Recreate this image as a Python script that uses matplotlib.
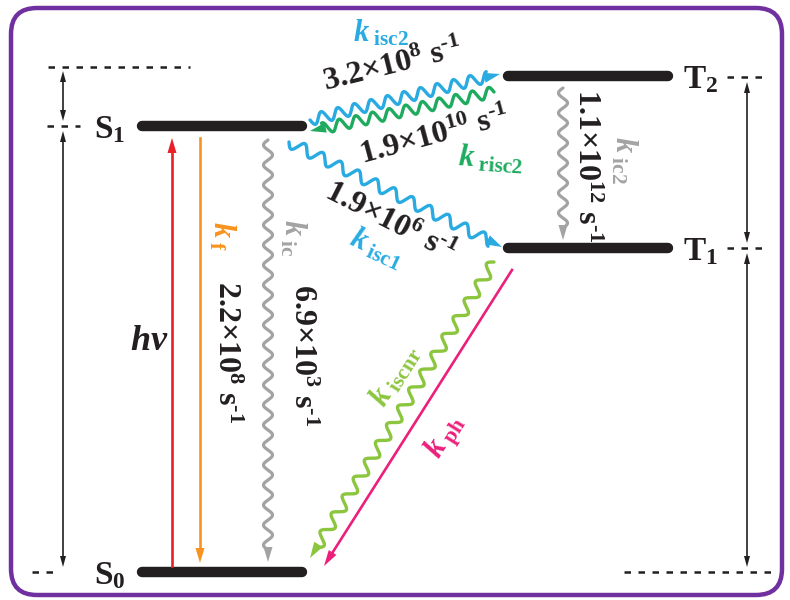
import numpy as np
import matplotlib
matplotlib.use("Agg")
from matplotlib import pyplot as plt
from matplotlib.patches import Polygon, FancyBboxPatch

plt.rcParams['mathtext.fontset'] = 'custom'
plt.rcParams['mathtext.rm'] = 'Liberation Serif'
plt.rcParams['mathtext.it'] = 'Liberation Serif:italic'
plt.rcParams['mathtext.bf'] = 'Liberation Serif:bold'
plt.rcParams['mathtext.bfit'] = 'Liberation Serif:bold:italic'

# rate constants (s^-1) as mantissa / exponent
rate_names = ['f', 'ic', 'isc1', 'isc2', 'risc2', 'ic2']
rate_mant = ['2.2', '6.9', '1.9', '3.2', '1.9', '1.1']
rate_exp = ['8', '3', '6', '8', '10', '12']
rate_colors = ['#f7931e', '#a3a3a3', '#29abe2', '#29abe2', '#1eab5f', '#a3a3a3']
extra_names = ['iscnr', 'ph']
extra_colors = ['#8cc63f', '#ec1f7a']
level_names = ['S0', 'S1', 'T1', 'T2']

DARK = '#231f20'


def rate_text(i):
    return '$\\mathbf{%s{\\times}10^{%s}\\ s^{\u20101}}$' % (rate_mant[i], rate_exp[i])


def k_text(name):
    return r'$\mathbfit{k}_{\ \mathbf{%s}}$' % name


def head(ax, tip, u, color, hl, hw):
    n = np.array([-u[1], u[0]])
    base = tip - u * hl
    ax.add_patch(Polygon([tip, base + n * hw / 2, base - n * hw / 2],
                         closed=True, color=color, lw=0, zorder=4))


def straight(ax, p0, p1, color, lw=1.8, hl=14, hw=9, both=False):
    p0, p1 = np.array(p0, float), np.array(p1, float)
    u = (p1 - p0) / np.linalg.norm(p1 - p0)
    a = p0 + u * hl * 0.8 if both else p0
    b = p1 - u * hl * 0.8
    ax.plot([a[0], b[0]], [a[1], b[1]], color=color, lw=lw, zorder=3)
    head(ax, p1, u, color, hl, hw)
    if both:
        head(ax, p0, -u, color, hl, hw)


def wavy(ax, p0, p1, color, wl=16, amp=5, lw=2.2, hl=15, hw=10):
    p0, p1 = np.array(p0, float), np.array(p1, float)
    L = np.linalg.norm(p1 - p0)
    u = (p1 - p0) / L
    n = np.array([-u[1], u[0]])
    t = np.linspace(0, L - hl * 0.8, 600)
    pts = p0 + np.outer(t, u) + np.outer(amp * np.sin(2 * np.pi * t / wl), n)
    ax.plot(pts[:, 0], pts[:, 1], color=color, lw=lw, zorder=3,
            solid_capstyle='round')
    head(ax, p1, u, color, hl, hw)


fig = plt.figure(figsize=(7.9, 6.0), dpi=100)
ax = fig.add_axes([0, 0, 1, 1])
ax.set_xlim(0, 790)
ax.set_ylim(600, 0)
ax.axis('off')

# frame
ax.add_patch(FancyBboxPatch((11, 8), 771, 587, boxstyle='round,pad=0,rounding_size=26',
                            fc='none', ec='#7030a0', lw=3.2, zorder=1))

# energy levels
levels = {'S1': (142, 302, 126), 'S0': (142, 302, 572),
          'T2': (508, 668, 76), 'T1': (508, 668, 248)}
for name in level_names:
    x0, x1, y = levels[name]
    ax.plot([x0, x1], [y, y], color=DARK, lw=7.5, solid_capstyle='round', zorder=3)
lab_x = {'S0': 110, 'S1': 110, 'T1': 701, 'T2': 701}
for name in level_names:
    ax.text(lab_x[name], levels[name][2] + 3, r'$\mathbf{%s_{%s}}$' % (name[0], name[1]),
            fontsize=24, ha='center', va='center', color=DARK)

# dashed reference lines
dash = dict(color=DARK, lw=1.8, ls=(0, (2.6, 3.0)))
ax.plot([48, 190], [67, 67], **dash)
ax.plot([47, 80], [126, 126], **dash)
ax.plot([32, 55], [572, 572], **dash)
ax.plot([727, 762], [77, 77], **dash)
ax.plot([727, 762], [248, 248], **dash)
ax.plot([624, 773], [572, 572], **dash)

# energy gap double arrows
for x, y0, y1 in [(63, 71, 121), (63, 131, 567), (747, 82, 243), (747, 253, 567)]:
    straight(ax, (x, y0), (x, y1), DARK, lw=1.2, hl=11, hw=6, both=True)

# radiative transitions
straight(ax, (172, 566), (172, 138), '#e8202a', lw=1.9, hl=15, hw=9)
straight(ax, (200, 138), (200, 563), rate_colors[0], lw=1.9, hl=15, hw=9)
straight(ax, (512, 270), (324, 566), extra_colors[1], lw=1.9, hl=16, hw=9)

# non-radiative transitions
wavy(ax, (268, 140), (268, 562), rate_colors[1], wl=20, amp=4.5, lw=2.3, hl=15, hw=9)
wavy(ax, (563, 88), (563, 240), rate_colors[5], wl=20, amp=4.5, lw=2.3, hl=15, hw=9)
wavy(ax, (310, 120), (500, 74), rate_colors[3], wl=17, amp=5.5, lw=2.4, hl=16, hw=10)
wavy(ax, (494, 92), (310, 131), rate_colors[4], wl=17, amp=5.5, lw=2.4, hl=16, hw=10)
wavy(ax, (289, 142), (502, 247), rate_colors[2], wl=20, amp=5.5, lw=2.4, hl=16, hw=10)
wavy(ax, (494, 262), (310, 558), extra_colors[0], wl=21, amp=5.5, lw=2.4, hl=16, hw=10)

# labels
ax.text(149, 340, r'$\mathbfit{hv}$', fontsize=26, ha='center', va='center', color=DARK)

rot = {'f': -90, 'ic': -90, 'isc1': -25, 'isc2': 0, 'risc2': -4, 'ic2': -90}
k_pos = {'f': (222, 236), 'ic': (293, 238), 'isc1': (377, 248),
         'isc2': (381, 33), 'risc2': (491, 159), 'ic2': (624, 160)}
r_pos = {'f': (226, 352), 'ic': (302, 355), 'isc1': (390, 222),
         'isc2': (393, 66), 'risc2': (434, 136), 'ic2': (586, 166)}
r_rot = {'f': -90, 'ic': -90, 'isc1': -27, 'isc2': 14, 'risc2': 15, 'ic2': -90}
for i, name in enumerate(rate_names):
    ax.text(*k_pos[name], k_text(name), fontsize=22, color=rate_colors[i],
            ha='center', va='center', rotation=rot[name], rotation_mode='anchor')
    ax.text(*r_pos[name], rate_text(i), fontsize=23, color=DARK,
            ha='center', va='center', rotation=r_rot[name], rotation_mode='anchor')

ax.text(395, 375, k_text(extra_names[0]), fontsize=22, color=extra_colors[0],
        ha='center', va='center', rotation=58, rotation_mode='anchor')
ax.text(446, 437, k_text(extra_names[1]), fontsize=22, color=extra_colors[1],
        ha='center', va='center', rotation=58, rotation_mode='anchor')

fig.savefig('out.png', dpi=100)
